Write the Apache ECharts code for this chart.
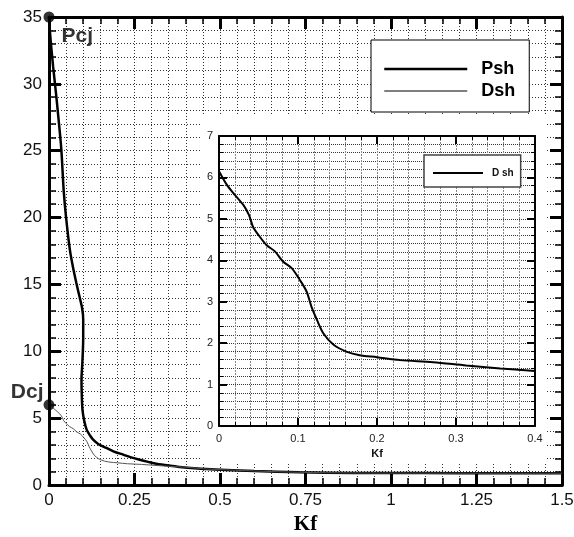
<!DOCTYPE html>
<html>
<head>
<meta charset="utf-8">
<script src="https://cdn.jsdelivr.net/npm/echarts@6/dist/echarts.min.js"></script>
<style>html,body{margin:0;padding:0;background:#fff;}#c{width:574px;height:537px;}</style>
</head>
<body>
<div id="c"></div>
<script>
// ---- data ----
const xMainTicks = [0, 0.25, 0.5, 0.75, 1, 1.25, 1.5];
const yMainTicks = [0, 5, 10, 15, 20, 25, 30, 35];
const xInsetTicks = [0, 0.1, 0.2, 0.3, 0.4];
const yInsetTicks = [0, 1, 2, 3, 4, 5, 6, 7];

const pshX = [0, 0.004, 0.012, 0.02, 0.027, 0.036, 0.043, 0.05, 0.061, 0.07, 0.08, 0.09, 0.097, 0.1, 0.1, 0.099, 0.097, 0.095, 0.096, 0.098, 0.103, 0.11, 0.12, 0.129, 0.145, 0.168, 0.19, 0.217, 0.24, 0.265, 0.29, 0.314, 0.35, 0.382, 0.46, 0.6, 0.733, 0.89, 1.1, 1.3, 1.5];
const pshY = [35, 33.5, 31.3, 29.4, 27.6, 25.1, 22.0, 20.0, 17.6, 16.3, 15.1, 14.0, 13.2, 12.4, 11.0, 10.0, 8.9, 7.9, 6.6, 5.6, 4.8, 4.14, 3.7, 3.39, 3.05, 2.77, 2.5, 2.27, 2.07, 1.89, 1.73, 1.59, 1.45, 1.35, 1.2, 1.05, 0.95, 0.9, 0.89, 0.88, 0.88];

const dshX = [0, 0.01, 0.02, 0.031, 0.038, 0.043, 0.05, 0.06, 0.071, 0.081, 0.092, 0.1025, 0.111, 0.117, 0.124, 0.132, 0.145, 0.162, 0.178, 0.2, 0.229, 0.271, 0.313, 0.356, 0.4];
const dshY = [6.15, 5.82, 5.58, 5.33, 5.09, 4.81, 4.61, 4.37, 4.21, 3.97, 3.81, 3.52, 3.24, 2.88, 2.56, 2.24, 1.96, 1.79, 1.71, 1.66, 1.59, 1.54, 1.46, 1.39, 1.33];
const dshTailX = [0.46, 0.6, 0.733, 0.89, 1.1, 1.3, 1.5];
const dshTailY = [1.2, 1.05, 0.95, 0.9, 0.89, 0.88, 0.88];

const cjX = [0, 0];
const cjY = [35, 6];
const cjNames = ['Pcj', 'Dcj'];

// ---- helpers ----
const zip = (xs, ys) => xs.map((x, i) => [x, ys[i]]);
const SANS = "'Liberation Sans', Arial, sans-serif";

function axisCfg(o) {
  const ticks = o.ticks;
  const interval = ticks[1] - ticks[0];
  return {
    type: 'value',
    gridIndex: o.grid,
    position: o.position,
    min: ticks[0],
    max: ticks[ticks.length - 1],
    interval: interval,
    z: o.z,
    name: o.name || '',
    nameLocation: 'middle',
    nameGap: o.nameGap || 0,
    nameTextStyle: o.nameTextStyle,
    axisLine: { show: true, onZero: false, lineStyle: { color: '#000', width: o.lineW } },
    axisTick: { show: true, inside: true, length: o.tickLen, lineStyle: { color: '#000', width: o.tickW } },
    minorTick: { show: true, splitNumber: 5, length: o.minorLen, lineStyle: { color: '#000', width: o.minorW } },
    splitLine: { show: o.grids, lineStyle: o.gridStyle },
    minorSplitLine: { show: o.grids, lineStyle: o.gridStyle },
    axisLabel: {
      show: o.labels,
      showMinLabel: true,
      showMaxLabel: true,
      hideOverlap: false,
      margin: o.margin,
      fontSize: o.fontSize,
      fontFamily: SANS,
      color: o.labelColor || '#111'
    }
  };
}

const mainGridStyle = { color: '#333', width: 1, type: [1, 2] };
const insetGridStyleX = { color: '#888', width: 1, type: [2, 1] };
const insetGridStyleY = { color: '#333', width: 1, type: [1, 1] };

const mainCommon = { grid: 0, lineW: 3, tickLen: 12, tickW: 3, minorLen: 7, minorW: 1.5, z: 0 };
const insetCommon = { grid: 1, lineW: 2, tickLen: 8, tickW: 2, minorLen: 4, minorW: 1, z: 11 };

const xAxes = [
  axisCfg(Object.assign({}, mainCommon, { ticks: xMainTicks, position: 'bottom', grids: true, gridStyle: mainGridStyle, labels: true, margin: 7, fontSize: 17,
    name: 'Kf', nameGap: 26, nameTextStyle: { fontSize: 21, fontWeight: 'bold', fontFamily: "'Liberation Serif', 'Times New Roman', serif", color: '#000' } })),
  axisCfg(Object.assign({}, mainCommon, { ticks: xMainTicks, position: 'top', grids: false, labels: false })),
  axisCfg(Object.assign({}, insetCommon, { ticks: xInsetTicks, position: 'bottom', grids: true, gridStyle: insetGridStyleX, labels: true, margin: 7, fontSize: 11, labelColor: '#222',
    name: 'Kf', nameGap: 20, nameTextStyle: { fontSize: 11, fontWeight: 'bold', fontFamily: SANS, color: '#111' } })),
  axisCfg(Object.assign({}, insetCommon, { ticks: xInsetTicks, position: 'top', grids: false, labels: false }))
];
const yAxes = [
  axisCfg(Object.assign({}, mainCommon, { ticks: yMainTicks, position: 'left', grids: true, gridStyle: mainGridStyle, labels: true, margin: 7, fontSize: 17 })),
  axisCfg(Object.assign({}, mainCommon, { ticks: yMainTicks, position: 'right', grids: false, labels: false })),
  axisCfg(Object.assign({}, insetCommon, { ticks: yInsetTicks, position: 'left', grids: true, gridStyle: insetGridStyleY, labels: true, margin: 6, fontSize: 11, labelColor: '#222' })),
  axisCfg(Object.assign({}, insetCommon, { ticks: yInsetTicks, position: 'right', grids: false, labels: false }))
];

const hiddenSymbol = { color: 'rgba(0,0,0,0)', borderColor: 'rgba(0,0,0,0)', borderWidth: 0, opacity: 0 };

const chart = echarts.init(document.getElementById('c'), null, { renderer: 'canvas' });
chart.setOption({
  animation: false,
  backgroundColor: '#fff',
  grid: [
    { left: 49, top: 17, width: 513, height: 468, containLabel: false, outerBoundsMode: 'none' },
    { left: 219, top: 136, width: 316, height: 290, containLabel: false, outerBoundsMode: 'none', z: 11 }
  ],
  xAxis: xAxes,
  yAxis: yAxes,
  graphic: [
    { type: 'rect', shape: { x: 200, y: 114, width: 346, height: 349 }, style: { fill: '#fff' }, z: 10, silent: true }
  ],
  legend: [
    {
      left: 371, top: 40, orient: 'vertical', selectedMode: false, z: 20,
      data: [
        { name: 'Psh', lineStyle: { color: '#000', width: 2.5 }, itemStyle: hiddenSymbol },
        { name: 'Dsh', lineStyle: { color: '#000', width: 1.2 }, itemStyle: hiddenSymbol }
      ],
      itemStyle: hiddenSymbol,
      itemWidth: 83, itemHeight: 14, itemGap: 2,
      padding: [19, 14, 11, 12],
      backgroundColor: '#fff', borderColor: '#000', borderWidth: 1, borderRadius: 0,
      textStyle: { fontSize: 18, fontWeight: 'bold', fontFamily: SANS, color: '#000', padding: [0, 0, 0, 9], lineHeight: 20 }
    },
    {
      left: 424, top: 155, orient: 'vertical', selectedMode: false, z: 20,
      data: [{ name: 'D sh', lineStyle: { color: '#000', width: 2 }, itemStyle: hiddenSymbol }],
      itemStyle: hiddenSymbol,
      itemWidth: 50, itemHeight: 12, itemGap: 0,
      padding: [11, 7, 7, 8],
      backgroundColor: '#fff', borderColor: '#444', borderWidth: 1.5, borderRadius: 0,
      textStyle: { fontSize: 10, fontWeight: 'bold', fontFamily: SANS, color: '#111', padding: [0, 0, 0, 4], lineHeight: 14 }
    }
  ],
  series: [
    { name: 'Psh', type: 'line', xAxisIndex: 0, yAxisIndex: 0, data: zip(pshX, pshY), symbol: 'none', smooth: 0.3,
      itemStyle: { color: '#000' }, lineStyle: { color: '#000', width: 2.5 }, z: 2 },
    { name: 'Dsh', type: 'line', xAxisIndex: 0, yAxisIndex: 0, data: zip(dshX.concat(dshTailX), dshY.concat(dshTailY)), symbol: 'none', smooth: 0.3,
      itemStyle: { color: '#000' }, lineStyle: { color: '#555', width: 1 }, z: 2 },
    { type: 'scatter', xAxisIndex: 0, yAxisIndex: 0, symbolSize: 11, clip: false, z: 3,
      itemStyle: { color: '#000' },
      data: cjX.map((x, i) => ({
        value: [x, cjY[i]],
        label: {
          show: true, formatter: cjNames[i], fontSize: 21, fontWeight: 'bold', fontFamily: SANS, color: '#000',
          position: i === 0 ? 'right' : 'left',
          offset: i === 0 ? [2, 19] : [5, -13]
        }
      }))
    },
    { name: 'D sh', type: 'line', xAxisIndex: 2, yAxisIndex: 2, data: zip(dshX, dshY), symbol: 'none', smooth: 0.3,
      itemStyle: { color: '#000' }, lineStyle: { color: '#000', width: 2 }, z: 12 }
  ]
});
</script>
</body>
</html>
